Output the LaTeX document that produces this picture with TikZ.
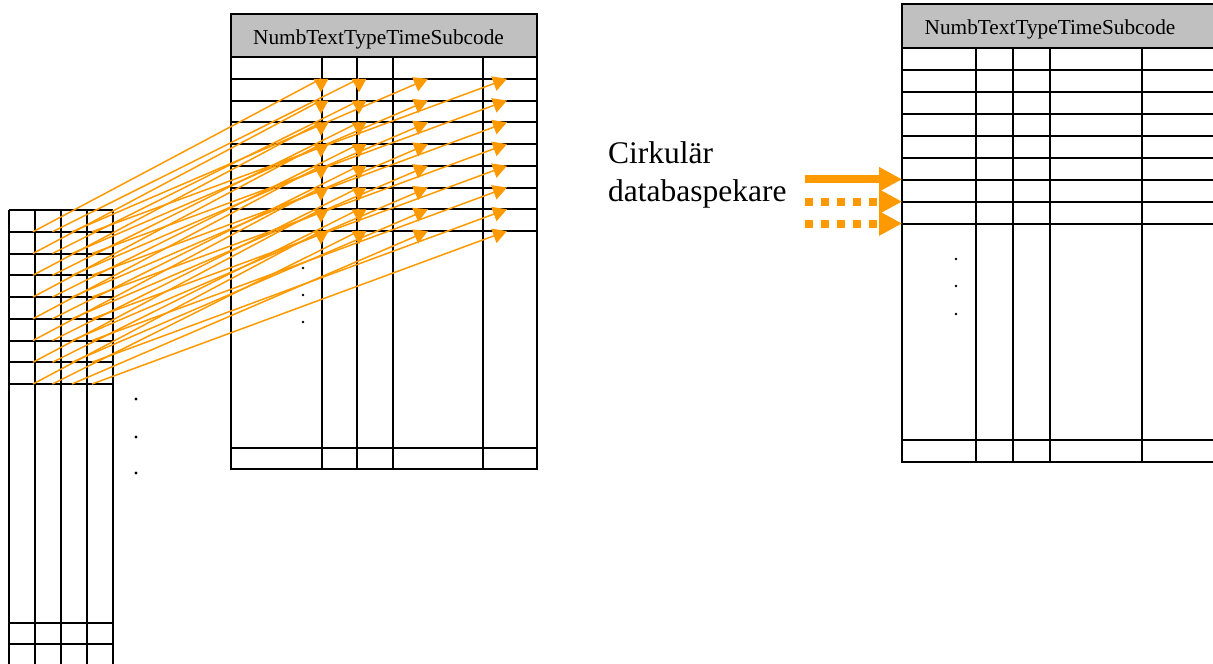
\documentclass[tikz,border=0pt]{standalone}
\usepackage{fontspec}
\setmainfont{Liberation Serif}
\usetikzlibrary{arrows.meta}
\definecolor{linkorange}{RGB}{255,153,0}
\definecolor{hdrgray}{RGB}{192,192,192}
\tikzset{
  grid/.style={draw=black, line width=2pt},
  hdrfill/.style={fill=hdrgray},
  hdrtext/.style={anchor=base, inner sep=0pt, font=\fontsize{21.3}{25}\selectfont},
  lbltext/.style={anchor=base west, inner sep=0pt, font=\fontsize{31.5}{38}\selectfont},
  link/.style={draw=linkorange, line width=1.5pt},
  linktip/.style={link, -{Triangle[length=14pt,width=15pt]}},
  ptrsolid/.style={draw=linkorange, line width=8pt},
  ptrdots/.style={draw=linkorange, line width=8pt, dash pattern=on 8pt off 8pt},
  dot/.style={fill=black}
}
\begin{document}
\begin{tikzpicture}[x=1pt,y=-1pt]
\useasboundingbox (0,0) rectangle (1213,664);

% ---------- index table (left) ----------
\foreach \x in {9,35,61,87,113}
  \draw[grid] (\x,210) -- (\x,670);
\foreach \k in {0,...,8}
  \draw[grid] (9,{210+21.75*\k}) -- (113,{210+21.75*\k});
\draw[grid] (9,622.7) -- (113,622.7);
\draw[grid] (9,644.3) -- (113,644.3);
\foreach \yy in {399,437,473}
  \fill[dot] (136,\yy) circle (1.7);

% ---------- event table (middle) ----------
\fill[hdrfill] (231,14) rectangle (537,57);
\draw[grid] (231,14) rectangle (537,469);
\foreach \k in {0,...,8}
  \draw[grid] (231,{57+21.75*\k}) -- (537,{57+21.75*\k});
\draw[grid] (231,447.7) -- (537,447.7);
\foreach \x in {321.7,357.3,393,483.3}
  \draw[grid] (\x,57) -- (\x,469);
\node[hdrtext] (hdrM) at (378.5,44) {NumbTextTypeTimeSubcode};
\foreach \yy in {268,295,322}
  \fill[dot] (303,\yy) circle (1.3);

% ---------- circular database (right) ----------
\fill[hdrfill] (901.7,4) rectangle (1220,48.3);
\draw[grid] (1220,4) -- (901.7,4) -- (901.7,462.3) -- (1220,462.3);
\foreach \k in {0,...,8}
  \draw[grid] (901.7,{48.3+21.9*\k}) -- (1220,{48.3+21.9*\k});
\draw[grid] (901.7,440.3) -- (1220,440.3);
\foreach \x in {976,1012.7,1050,1142.3}
  \draw[grid] (\x,48.3) -- (\x,462.3);
\node[hdrtext] (hdrR) at (1050,34.3) {NumbTextTypeTimeSubcode};
\foreach \yy in {259,286,314}
  \fill[dot] (956,\yy) circle (1.3);

% ---------- links from index rows to event rows ----------
\foreach \r in {1,...,8} {
  \pgfmathsetmacro\yl{210+21.75*\r}
  \pgfmathsetmacro\yt{57+21.75*\r}
  \coordinate (L\r-1) at (33,\yl);
  \coordinate (L\r-2) at (52.5,\yl);
  \coordinate (L\r-3) at (72,\yl);
  \coordinate (L\r-4) at (92,\yl);
  \coordinate (T\r-1) at (321,\yt);
  \coordinate (T\r-2) at (359,\yt);
  \coordinate (T\r-3) at (428,\yt);
  \coordinate (T\r-4) at (507,\yt);
}
\foreach \r in {1,...,8} {
  \draw[link] (L\r-1) -- (T\r-1);
  \fill[linkorange] (T\r-1) ++(-7.5,0) -- ++(15,0) -- ++(-7.5,13.5) -- cycle;
  \draw[link] (L\r-2) -- (T\r-2);
  \fill[linkorange] (T\r-2) ++(-7.5,0) -- ++(15,0) -- ++(-7.5,13.5) -- cycle;
  \draw[linktip] (L\r-3) -- (T\r-3);
  \draw[linktip] (L\r-4) -- (T\r-4);
}

% ---------- database pointer ----------
\node[lbltext] (lbl1) at (608,163) {Cirkulär};
\node[lbltext] (lbl2) at (608,201.7) {databaspekare};

\coordinate (P1s) at (805,179.3);   \coordinate (P1e) at (901.7,179.3);
\coordinate (P2s) at (805,201.6);   \coordinate (P2e) at (901.7,201.6);
\coordinate (P3s) at (805,223.5);   \coordinate (P3e) at (901.7,223.5);

\draw[ptrsolid] (P1s) -- ([xshift=-22.7pt]P1e);
\draw[ptrdots]  (P2s) -- ([xshift=-22.7pt]P2e);
\draw[ptrdots]  (P3s) -- ([xshift=-22.7pt]P3e);
\foreach \p in {P1e,P2e,P3e}
  \fill[linkorange] (\p) -- ++(-22.7,-12.4) -- ++(0,24.8) -- cycle;
\end{tikzpicture}
\end{document}
